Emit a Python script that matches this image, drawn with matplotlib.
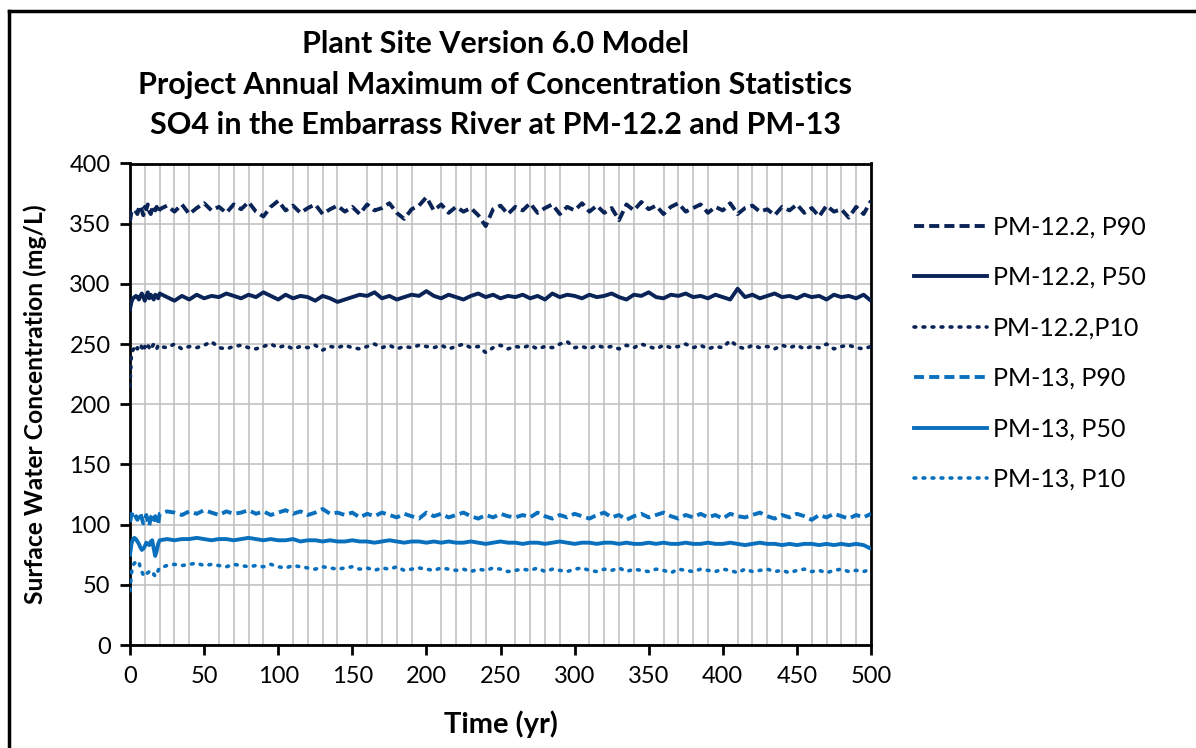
import numpy as np
import matplotlib
matplotlib.use("Agg")
import matplotlib.pyplot as plt
from matplotlib.lines import Line2D
from matplotlib.ticker import MultipleLocator

plt.rcParams['font.family'] = ['Lato', 'DejaVu Sans']

# Simulation years: annual for the first 20 years, then every 5 years
years = list(range(0, 21)) + list(range(25, 501, 5))

pm122_p90 = [352, 360, 361, 362, 360, 358, 363, 365, 361, 357, 364, 362, 366, 360, 358, 363, 365, 361, 364, 359, 362,
             365, 360, 366, 358, 363, 367, 361, 364, 359, 366, 362, 368,
             360, 356, 364, 369, 361, 365, 359, 363, 366, 358, 362, 365,
             360, 364, 358, 366, 361, 363, 367, 359, 354, 362, 365, 372,
             361, 366, 359, 364, 360, 363, 357, 348, 362, 365, 358, 364,
             361, 367, 359, 363, 366, 358, 364, 361, 367, 360, 365, 359,
             363, 353, 366, 361, 368, 362, 365, 358, 364, 367, 360, 363,
             366, 359, 364, 361, 367, 358, 363, 365, 360, 362, 357, 364,
             361, 366, 359, 363, 356, 365, 360, 362, 355, 364, 358, 369]

pm122_p50 = [279, 285, 288, 289, 290, 289, 287, 290, 292, 289, 286, 290, 293, 288, 291, 289, 287, 291, 290, 288, 292,
             289, 286, 290, 287, 291, 288, 290, 289, 292, 290, 288, 291,
             289, 293, 290, 287, 291, 288, 290, 289, 286, 290, 288, 285,
             287, 289, 291, 290, 293, 288, 290, 287, 289, 291, 290, 294,
             290, 288, 291, 289, 287, 290, 292, 289, 291, 288, 290, 289,
             291, 288, 290, 287, 292, 289, 291, 290, 288, 291, 289, 290,
             292, 289, 287, 291, 290, 293, 289, 288, 291, 290, 292, 289,
             290, 288, 291, 289, 287, 296, 289, 291, 288, 290, 292, 289,
             290, 288, 291, 289, 290, 287, 291, 289, 290, 288, 291, 286]

pm122_p10 = [215, 243, 245, 247, 249, 246, 248, 250, 247, 244, 248, 246, 249, 247, 245, 248, 250, 247, 246, 249, 248,
             247, 250, 246, 248, 247, 249, 252, 247, 246, 248, 249, 247,
             246, 248, 250, 247, 249, 246, 248, 247, 249, 245, 248, 247,
             249, 247, 246, 248, 250, 247, 249, 246, 248, 247, 249, 248,
             247, 249, 246, 248, 250, 247, 248, 243, 247, 249, 246, 248,
             247, 249, 246, 248, 247, 250, 252, 247, 248, 246, 249, 247,
             248, 246, 249, 247, 250, 248, 246, 249, 247, 248, 250, 247,
             249, 246, 248, 247, 253, 248, 246, 249, 247, 248, 246, 249,
             247, 249, 246, 248, 247, 250, 246, 248, 249, 247, 246, 248]

pm13_p90 = [102, 108, 111, 109, 106, 104, 107, 110, 105, 101, 104, 108, 103, 99, 106, 108, 104, 107, 102, 100, 109,
            111, 110, 108, 111, 109, 112, 110, 108, 111, 109, 110, 112,
            109, 111, 108, 110, 112, 109, 111, 108, 110, 113, 109, 110,
            108, 110, 106, 109, 107, 110, 108, 106, 109, 107, 105, 110,
            107, 109, 106, 108, 110, 107, 105, 108, 106, 109, 107, 106,
            108, 106, 110, 107, 105, 108, 106, 109, 107, 105, 108, 110,
            106, 108, 104, 107, 109, 106, 108, 110, 107, 105, 108, 106,
            109, 106, 108, 105, 109, 107, 106, 108, 110, 107, 105, 108,
            106, 109, 107, 104, 108, 106, 109, 107, 105, 108, 106, 109]

pm13_p50 = [75, 84, 88, 89, 88, 86, 84, 81, 79, 80, 82, 85, 84, 83, 86, 87, 80, 74, 78, 84, 87,
            88, 87, 88, 88, 89, 88, 87, 88, 88, 87, 88, 89,
            88, 87, 88, 87, 87, 88, 86, 87, 87, 86, 87, 86,
            86, 87, 86, 86, 85, 86, 87, 86, 85, 86, 86, 85,
            86, 85, 86, 85, 85, 86, 85, 84, 85, 86, 85, 85,
            84, 85, 85, 84, 85, 86, 85, 84, 85, 85, 84, 85,
            85, 84, 85, 84, 84, 85, 84, 85, 84, 84, 85, 84,
            84, 85, 84, 84, 85, 84, 83, 84, 85, 84, 84, 83,
            84, 83, 84, 84, 83, 84, 83, 84, 83, 84, 83, 80]

pm13_p10 = [45, 60, 66, 68, 69, 70, 69, 64, 61, 58, 57, 59, 60, 61, 60, 58, 59, 57, 58, 62, 64,
            66, 67, 66, 67, 68, 66, 67, 66, 65, 67, 66, 65,
            66, 65, 67, 65, 64, 66, 65, 64, 63, 65, 64, 63,
            64, 65, 63, 64, 62, 64, 63, 65, 62, 63, 64, 63,
            62, 64, 63, 62, 63, 61, 63, 62, 64, 63, 61, 62,
            63, 62, 64, 61, 63, 62, 61, 63, 64, 62, 61, 63,
            62, 64, 61, 63, 62, 61, 63, 62, 60, 63, 62, 61,
            63, 62, 61, 63, 62, 60, 63, 61, 62, 63, 61, 62,
            60, 62, 63, 61, 62, 60, 62, 63, 61, 62, 61, 63]

series_labels = ["PM-12.2, P90", "PM-12.2, P50", "PM-12.2,P10",
                 "PM-13, P90", "PM-13, P50", "PM-13, P10"]
title_lines = ["Plant Site Version 6.0 Model",
               "Project Annual Maximum of Concentration Statistics",
               "SO4 in the Embarrass River at PM-12.2 and PM-13"]

navy = "#0b2457"
blue = "#0a70be"
dash = (0, (2.6, 1.3))
dot = (0, (0.5, 2.0))

fig = plt.figure(figsize=(11.96, 7.48), dpi=100)
fig.patch.set_facecolor("white")
ax = fig.add_axes([130 / 1196, 1 - 645 / 748, 741 / 1196, (645 - 163.5) / 748])

styles = [
    (pm122_p90, navy, dash, 2.8),
    (pm122_p50, navy, "-", 2.8),
    (pm122_p10, navy, dot, 2.6),
    (pm13_p90, blue, dash, 2.8),
    (pm13_p50, blue, "-", 2.8),
    (pm13_p10, blue, dot, 2.6),
]
handles = []
for (vals, col, ls, lw), lab in zip(styles, series_labels):
    h, = ax.plot(years, vals, color=col, linestyle=ls, linewidth=lw, label=lab,
                 dash_capstyle="round" if ls == dot else "butt", zorder=3)
    handles.append(h)

ax.set_xlim(0, 500)
ax.set_ylim(0, 400)
ax.xaxis.set_major_locator(MultipleLocator(50))
ax.xaxis.set_minor_locator(MultipleLocator(10))
ax.yaxis.set_major_locator(MultipleLocator(50))
ax.grid(which="major", axis="y", color="#bdbdbd", linewidth=1.1)
ax.grid(which="minor", axis="x", color="#bdbdbd", linewidth=1.1)
ax.set_axisbelow(True)
for sp in ax.spines.values():
    sp.set_color("black")
    sp.set_linewidth(2.0)
ax.tick_params(axis="both", which="major", direction="out", length=7, width=2,
               color="black", labelsize=17)
ax.tick_params(axis="x", which="major", pad=8)
ax.tick_params(axis="y", which="major", pad=7)
ax.tick_params(axis="x", which="minor", length=0)

ax.set_xlabel("Time (yr)", fontsize=21, fontweight="bold", labelpad=17)
ax.set_ylabel("Surface Water Concentration (mg/L)", fontsize=17.7, fontweight="bold", labelpad=16)

fig.text(495 / 1196, 1 - 30 / 748, "\n".join(title_lines), ha="center", va="top",
         fontsize=22, fontweight="bold", linespacing=1.55)

fig.legend(handles=handles, loc="upper left", bbox_to_anchor=(892 / 1196, 1 - 193 / 748),
           frameon=False, fontsize=18, handlelength=2.9, handletextpad=0.25,
           labelspacing=1.1)

# Outer frame (left and top edges visible)
fig.add_artist(Line2D([9 / 1196, 9 / 1196], [0, 1 - 11 / 748], transform=fig.transFigure,
                      color="black", linewidth=2.5))
fig.add_artist(Line2D([9 / 1196, 1], [1 - 11 / 748, 1 - 11 / 748], transform=fig.transFigure,
                      color="black", linewidth=2.5))

fig.savefig("out.png", dpi=100, facecolor="white")
